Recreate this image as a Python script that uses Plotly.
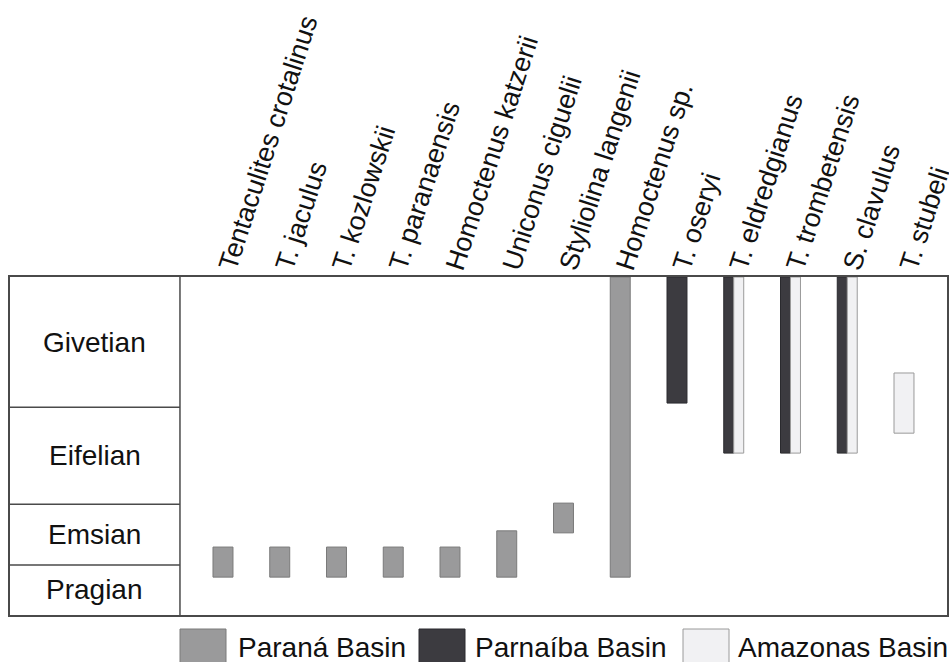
import plotly.graph_objects as go

# ---------------- data ----------------
taxa = ["Tentaculites crotalinus", "T. jaculus", "T. kozlowskii", "T. paranaensis",
        "Homoctenus katzerii", "Uniconus ciguelii", "Styliolina langenii",
        "Homoctenus sp.", "T. oseryi", "T. eldredgianus", "T. trombetensis",
        "S. clavulus", "T. stubeli"]

# stratigraphic position scale (0 = base of Pragian, 100 = top of Givetian)
stages = ["Pragian", "Emsian", "Eifelian", "Givetian"]
stage_bounds = [0, 14.8, 32.8, 61.5, 100]

# Paraná Basin ranges
parana_taxa = taxa[0:8]
parana_base = [11.2, 11.2, 11.2, 11.2, 11.2, 11.2, 24.3, 11.2]
parana_top = [20.1, 20.1, 20.1, 20.1, 20.1, 24.9, 33.1, 100]

# Parnaíba Basin ranges
parnaiba_taxa = ["T. oseryi", "T. eldredgianus", "T. trombetensis", "S. clavulus"]
parnaiba_base = [62.7, 47.9, 47.9, 47.9]
parnaiba_top = [100, 100, 100, 100]

# Amazonas Basin ranges
amazonas_taxa = ["T. eldredgianus", "T. trombetensis", "S. clavulus", "T. stubeli"]
amazonas_base = [47.9, 47.9, 47.9, 53.8]
amazonas_top = [100, 100, 100, 71.6]

basins = ["Paraná Basin", "Parnaíba Basin", "Amazonas Basin"]
colors = ["#9a9a9b", "#3c3b40", "#f1f1f3"]
edge_colors = ["#7a7a7a", "#2a2a2e", "#9a9a9a"]

FONT = "Arial, Liberation Sans, Helvetica, sans-serif"
full_w = 0.352
half_w = 0.176

fig = go.Figure()

# Paraná
fig.add_trace(go.Bar(
    x=parana_taxa, base=parana_base,
    y=[t - b for t, b in zip(parana_top, parana_base)],
    width=full_w, marker=dict(color=colors[0], line=dict(color=edge_colors[0], width=1)),
    name=basins[0], showlegend=False))

# Parnaíba (left half when shared with Amazonas)
pw = [half_w if n in amazonas_taxa else full_w for n in parnaiba_taxa]
fig.add_trace(go.Bar(
    x=parnaiba_taxa, base=parnaiba_base,
    y=[t - b for t, b in zip(parnaiba_top, parnaiba_base)],
    width=pw, offset=[-full_w / 2] * len(parnaiba_taxa),
    marker=dict(color=colors[1], line=dict(color=edge_colors[1], width=1)),
    name=basins[1], showlegend=False))

# Amazonas (right half when shared with Parnaíba)
aw = [half_w if n in parnaiba_taxa else full_w for n in amazonas_taxa]
ao = [0 if n in parnaiba_taxa else -full_w / 2 for n in amazonas_taxa]
fig.add_trace(go.Bar(
    x=amazonas_taxa, base=amazonas_base,
    y=[t - b for t, b in zip(amazonas_top, amazonas_base)],
    width=aw, offset=ao,
    marker=dict(color=colors[2], line=dict(color=edge_colors[2], width=1)),
    name=basins[2], showlegend=False))

shapes = []
annotations = []
divider = 0.1814  # paper x of the stage column edge
line_col = "#4a4a4a"

# stage column divider and boundaries
shapes.append(dict(type="line", xref="paper", yref="paper", x0=divider, x1=divider,
                   y0=0, y1=1, line=dict(color=line_col, width=1.5)))
for b in stage_bounds[1:-1]:
    shapes.append(dict(type="line", xref="paper", yref="y", x0=0, x1=divider,
                       y0=b, y1=b, line=dict(color=line_col, width=1.5)))
for i, s in enumerate(stages):
    annotations.append(dict(xref="paper", yref="y", x=divider / 2,
                            y=(stage_bounds[i] + stage_bounds[i + 1]) / 2,
                            text=s, showarrow=False,
                            font=dict(family=FONT, size=28, color="#111111"),
                            xanchor="center", yanchor="middle"))

# legend (manual, large swatches)
H = 338.0
W = 937.0
sw_x = [180, 419, 683]
txt_x = [236, 473, 736]
for i in range(3):
    x0 = (sw_x[i] - 10) / W
    x1 = (sw_x[i] + 46 - 10) / W
    shapes.append(dict(type="rect", xref="paper", yref="paper", x0=x0, x1=x1,
                       y0=-(675 - 615) / H, y1=-(629 - 615) / H,
                       fillcolor=colors[i], line=dict(color=edge_colors[i], width=1)))
    annotations.append(dict(xref="paper", yref="paper", x=(txt_x[i] - 10) / W,
                            y=-(647 - 615) / H, text=basins[i], showarrow=False,
                            xanchor="left", yanchor="middle",
                            font=dict(family=FONT, size=28, color="#111111")))

fig.update_layout(
    width=949, height=662,
    margin=dict(l=10, r=2, t=277, b=47, autoexpand=False),
    plot_bgcolor="white", paper_bgcolor="white",
    barmode="overlay",
    shapes=shapes, annotations=annotations,
    xaxis=dict(side="top", type="category", categoryorder="array", categoryarray=taxa,
               range=[-3.753, 12.758], tickangle=-72, ticklabelstandoff=-17,
               automargin=False,
               tickfont=dict(family=FONT, size=27, color="#111111"),
               showgrid=False, zeroline=False, ticks="",
               showline=True, linecolor=line_col, linewidth=1.5, mirror=True),
    yaxis=dict(range=[0, 100], showticklabels=False, showgrid=False, zeroline=False,
               automargin=False,
               ticks="", showline=True, linecolor=line_col, linewidth=1.5, mirror=True),
)

fig.write_html(
    "out.html",
    config={"displayModeBar": False},
    post_script="document.body.style.margin='0';document.body.style.overflow='hidden';",
)
